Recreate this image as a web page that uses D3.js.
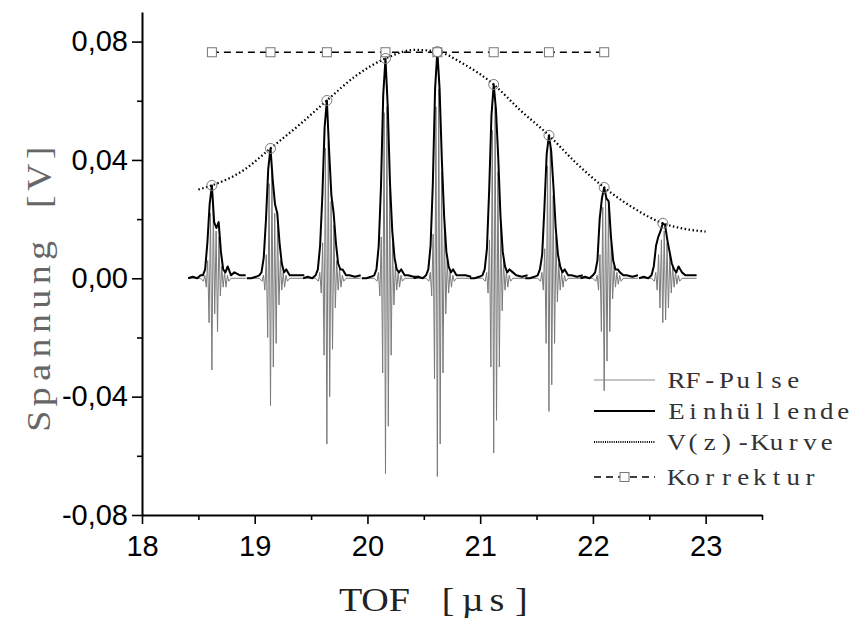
<!DOCTYPE html>
<html lang="de">
<head>
<meta charset="utf-8">
<script src="https://d3js.org/d3.v7.min.js"></script>
<style>
  body { margin: 0; background: #fff; }
  svg { display: block; }
</style>
</head>
<body>
<script>
// pulse centres (TOF in us) and peak heights of the envelope
var pulseCenters = [18.62, 19.14, 19.64, 20.16, 20.62, 21.12, 21.61, 22.10, 22.62];
var pulsePeaks   = [0.0314, 0.0439, 0.0601, 0.0743, 0.0766, 0.0655, 0.0483, 0.0307, 0.0186];

// envelope samples, offset from pulse centre (us)
var envOffsets = [-0.21, -0.17, -0.13, -0.10, -0.08, -0.06, -0.04, -0.02, 0, 0.02, 0.04, 0.06, 0.08, 0.10, 0.12, 0.14, 0.17, 0.20, 0.25, 0.30];
var envValues = [
  [0, 0.0005, 0, 0.001, 0.001, 0.003, 0.012, 0.025, 0.0314, 0.019, 0.017, 0.019, 0.009, 0.003, 0.002, 0.004, 0.001, 0.002, 0.001, 0.001],
  [0, 0, 0.0005, 0.001, 0.002, 0.007, 0.020, 0.037, 0.0439, 0.033, 0.025, 0.022, 0.012, 0.005, 0.002, 0.003, 0.001, 0.001, 0.001, 0.001],
  [0, 0.0005, 0, 0.001, 0.003, 0.011, 0.028, 0.051, 0.0601, 0.043, 0.028, 0.022, 0.012, 0.005, 0.003, 0.003, 0.001, 0.001, 0.0005, 0.001],
  [0, 0, 0.0005, 0.001, 0.003, 0.011, 0.031, 0.062, 0.0743, 0.058, 0.032, 0.016, 0.007, 0.003, 0.002, 0.003, 0.001, 0.001, 0.0005, 0.0005],
  [0, 0.0005, 0, 0.001, 0.003, 0.011, 0.032, 0.064, 0.0766, 0.064, 0.040, 0.021, 0.009, 0.004, 0.002, 0.003, 0.001, 0.001, 0.001, 0.0005],
  [0, 0, 0.0005, 0.001, 0.003, 0.010, 0.030, 0.055, 0.0655, 0.057, 0.041, 0.021, 0.009, 0.004, 0.002, 0.003, 0.002, 0.001, 0.0005, 0.001],
  [0, 0, 0.0005, 0.001, 0.003, 0.008, 0.024, 0.042, 0.0483, 0.043, 0.031, 0.017, 0.008, 0.004, 0.002, 0.003, 0.001, 0.001, 0.0005, 0.001],
  [0, 0.0005, 0, 0.001, 0.002, 0.006, 0.020, 0.027, 0.0307, 0.027, 0.026, 0.014, 0.006, 0.003, 0.003, 0.002, 0.001, 0.001, 0.0005, 0.001],
  [0, 0.0005, 0, 0.001, 0.004, 0.011, 0.014, 0.016, 0.0186, 0.018, 0.013, 0.009, 0.005, 0.003, 0.002, 0.004, 0.002, 0.001, 0.001, 0.001]
];

// RF oscillation extrema, offset from pulse centre (us)
var rfOffsets = [-0.075, -0.0625, -0.05, -0.0375, -0.025, -0.0125, 0, 0.0125, 0.025, 0.0375, 0.05, 0.0625, 0.075, 0.0875, 0.10, 0.1125, 0.125, 0.1375, 0.15];
var rfValues = [
  [-0.001, 0.001, -0.003, 0.006, -0.015, 0.022, -0.031, 0.024, -0.012, 0.016, -0.018, 0.014, -0.006, 0.004, -0.003, 0.002, -0.003, 0.001, -0.001],
  [-0.001, 0.001, -0.004, 0.008, -0.020, 0.032, -0.043, 0.036, -0.030, 0.022, -0.022, 0.018, -0.009, 0.006, -0.004, 0.002, -0.003, 0.001, -0.001],
  [-0.001, 0.002, -0.005, 0.012, -0.026, 0.044, -0.056, 0.046, -0.040, 0.026, -0.024, 0.018, -0.010, 0.006, -0.004, 0.003, -0.003, 0.001, -0.001],
  [-0.001, 0.002, -0.006, 0.014, -0.032, 0.056, -0.066, 0.058, -0.050, 0.030, -0.026, 0.012, -0.009, 0.004, -0.004, 0.002, -0.003, 0.001, -0.001],
  [-0.001, 0.002, -0.006, 0.015, -0.034, 0.058, -0.067, 0.064, -0.056, 0.036, -0.032, 0.018, -0.012, 0.006, -0.005, 0.002, -0.003, 0.001, -0.001],
  [-0.001, 0.002, -0.005, 0.013, -0.030, 0.050, -0.059, 0.058, -0.048, 0.036, -0.030, 0.018, -0.011, 0.006, -0.004, 0.002, -0.003, 0.001, -0.001],
  [-0.001, 0.002, -0.004, 0.010, -0.022, 0.038, -0.045, 0.044, -0.036, 0.028, -0.022, 0.014, -0.008, 0.005, -0.004, 0.002, -0.003, 0.001, -0.001],
  [-0.001, 0.001, -0.004, 0.008, -0.018, 0.024, -0.038, 0.027, -0.028, 0.024, -0.018, 0.012, -0.007, 0.004, -0.003, 0.002, -0.002, 0.001, -0.001],
  [-0.001, 0.002, -0.004, 0.008, -0.010, 0.013, -0.015, 0.016, -0.014, 0.012, -0.010, 0.008, -0.005, 0.004, -0.003, 0.002, -0.002, 0.001, -0.001]
];

// V(z) curve
var vzT = [18.5, 18.62, 18.9, 19.14, 19.4, 19.64, 19.9, 20.16, 20.42, 20.62, 20.85, 21.12, 21.35, 21.61, 21.85, 22.10, 22.35, 22.62, 22.8, 23.0];
var vzV = [0.0300, 0.0314, 0.0365, 0.0439, 0.0520, 0.0601, 0.0685, 0.0743, 0.0772, 0.0766, 0.0725, 0.0655, 0.0570, 0.0483, 0.0390, 0.0307, 0.0240, 0.0186, 0.0168, 0.0158];

// Korrektur (constant level)
var korrT = [18.62, 19.14, 19.64, 20.16, 20.62, 21.12, 21.61, 22.10];
var korrV = [0.0764, 0.0764, 0.0764, 0.0764, 0.0764, 0.0764, 0.0764, 0.0764];

var xTicks = [18, 19, 20, 21, 22, 23];
var xMinor = [18.5, 19.5, 20.5, 21.5, 22.5, 23.5];
var yTicks = [-0.08, -0.04, 0, 0.04, 0.08];
var yMinor = [-0.06, -0.02, 0.02, 0.06];
var legendLabels = ["RF-Pulse", "Einhüllende", "V(z)-Kurve", "Korrektur"];

var W = 859, H = 626;
var svg = d3.select("body").append("svg").attr("width", W).attr("height", H);

var x = d3.scaleLinear().domain([18, 23.5]).range([142, 762]);
var y = d3.scaleLinear().domain([-0.08, 0.09]).range([515, 12]);

var fmt = function(d) { return d3.format(".2f")(d).replace(".", ",").replace("−", "-"); };

// typewriter-like text: serif glyphs, slightly widened, on a fixed pitch (no Courier installed)
var SERIF = "Liberation Serif, Times New Roman, serif";
function monoText(g, str, x0, y0, pitch, size, fill, anchor, sx) {
  var total = pitch * str.length;
  var start = anchor === "middle" ? x0 - total / 2 : x0;
  var holder = g.append("g").attr("transform", "translate(" + start + "," + y0 + ") scale(" + sx + ",1)");
  var xs = [];
  for (var k = 0; k < str.length; k++) {
    var tmp = holder.append("text").attr("font-family", SERIF).attr("font-size", size)
      .style("white-space", "pre").text(str[k]);
    var w = str[k] === " " ? pitch / sx : tmp.node().getComputedTextLength();
    tmp.remove();
    xs.push(((k * pitch + (pitch - w * sx) / 2) / sx).toFixed(2));
  }
  return holder.append("text").attr("x", xs.join(" ")).attr("y", 0)
    .attr("font-family", SERIF).attr("font-size", size).attr("fill", fill)
    .style("white-space", "pre").text(str);
}

// RF pulses (gray)
var line = d3.line().x(function(d) { return x(d[0]); }).y(function(d) { return y(d[1]); });
pulseCenters.forEach(function(c, i) {
  var pts = [[c - 0.21, 0], [c - 0.1, 0]];
  rfOffsets.forEach(function(o, j) { pts.push([c + o, rfValues[i][j]]); });
  pts.push([c + 0.17, 0], [c + 0.30, 0]);
  svg.append("path").attr("d", line(pts))
    .attr("fill", "none").attr("stroke", "#7a7a7a").attr("stroke-width", 1);
});

// envelopes (black)
pulseCenters.forEach(function(c, i) {
  var pts = envOffsets.map(function(o, j) { return [c + o, envValues[i][j]]; });
  svg.append("path").attr("d", line(pts))
    .attr("fill", "none").attr("stroke", "#000").attr("stroke-width", 2)
    .attr("stroke-linejoin", "round");
});

// V(z) dotted curve
var vzLine = d3.line().curve(d3.curveMonotoneX)
  .x(function(d, i) { return x(vzT[i]); }).y(function(d) { return y(d); });
svg.append("path").attr("d", vzLine(vzV))
  .attr("fill", "none").attr("stroke", "#000").attr("stroke-width", 2.2)
  .attr("stroke-dasharray", "1.5,2.5");

// Korrektur dashed line + squares
svg.append("path")
  .attr("d", d3.line().x(function(d, i) { return x(korrT[i]); }).y(function(d) { return y(d); })(korrV))
  .attr("fill", "none").attr("stroke", "#000").attr("stroke-width", 1.6)
  .attr("stroke-dasharray", "7,5");
svg.selectAll(".sq").data(korrV).enter().append("rect")
  .attr("x", function(d, i) { return x(korrT[i]) - 4.5; })
  .attr("y", function(d) { return y(d) - 4.5; })
  .attr("width", 9).attr("height", 9)
  .attr("fill", "#fff").attr("stroke", "#777").attr("stroke-width", 1);

// circles on the envelope peaks
svg.selectAll(".pk").data(pulsePeaks).enter().append("circle")
  .attr("cx", function(d, i) { return x(pulseCenters[i]); })
  .attr("cy", function(d) { return y(d); })
  .attr("r", 5).attr("fill", "none").attr("stroke", "#777").attr("stroke-width", 1);

// axes
var xAxis = svg.append("g").attr("transform", "translate(0," + y(-0.08) + ")")
  .call(d3.axisBottom(x).tickValues(xTicks).tickSize(9).tickSizeOuter(0).tickFormat(d3.format("d")));
svg.append("g").attr("transform", "translate(0," + y(-0.08) + ")")
  .call(d3.axisBottom(x).tickValues(xMinor).tickSize(5).tickFormat(""))
  .select(".domain").remove();
var yAxis = svg.append("g").attr("transform", "translate(" + x(18) + ",0)")
  .call(d3.axisLeft(y).tickValues(yTicks).tickSize(10).tickSizeOuter(0).tickFormat(fmt));
svg.append("g").attr("transform", "translate(" + x(18) + ",0)")
  .call(d3.axisLeft(y).tickValues(yMinor).tickSize(5).tickFormat(""))
  .select(".domain").remove();

svg.selectAll(".domain").attr("stroke-width", 2);
svg.selectAll(".tick line").attr("stroke-width", 1.6);
xAxis.selectAll("text").attr("font-family", "Liberation Sans, Arial, sans-serif")
  .attr("font-size", 29).attr("fill", "#000").attr("dy", "1.0em");
yAxis.selectAll("text").attr("font-family", "Liberation Sans, Arial, sans-serif")
  .attr("font-size", 29).attr("fill", "#000").attr("x", -14);

// axis titles
monoText(svg, "TOF [µs]", 436, 611, 24.4, 34, "#222", "middle", 1.12);
var yt = svg.append("g").attr("transform", "translate(50,287) rotate(-90)");
monoText(yt, "Spannung [V]", 0, 0, 24.4, 34, "#666", "middle", 1.12);

// legend
var legY = [380, 411, 442, 477];
var lg = svg.append("g");
legendLabels.forEach(function(d, i) {
  monoText(lg, d, 668, legY[i] + 8, 16.7, 24, "#333", "start", 1.12);
});
lg.append("line").attr("x1", 594).attr("x2", 655).attr("y1", legY[0]).attr("y2", legY[0])
  .attr("stroke", "#8c8c8c").attr("stroke-width", 1);
lg.append("line").attr("x1", 594).attr("x2", 655).attr("y1", legY[1]).attr("y2", legY[1])
  .attr("stroke", "#000").attr("stroke-width", 2);
lg.append("line").attr("x1", 594).attr("x2", 655).attr("y1", legY[2]).attr("y2", legY[2])
  .attr("stroke", "#000").attr("stroke-width", 2).attr("stroke-dasharray", "1,1.2");
lg.append("line").attr("x1", 594).attr("x2", 655).attr("y1", legY[3]).attr("y2", legY[3])
  .attr("stroke", "#000").attr("stroke-width", 1.6).attr("stroke-dasharray", "7,5");
lg.append("rect").attr("x", 620).attr("y", legY[3] - 4.5).attr("width", 9).attr("height", 9)
  .attr("fill", "#fff").attr("stroke", "#777");
</script>
</body>
</html>
